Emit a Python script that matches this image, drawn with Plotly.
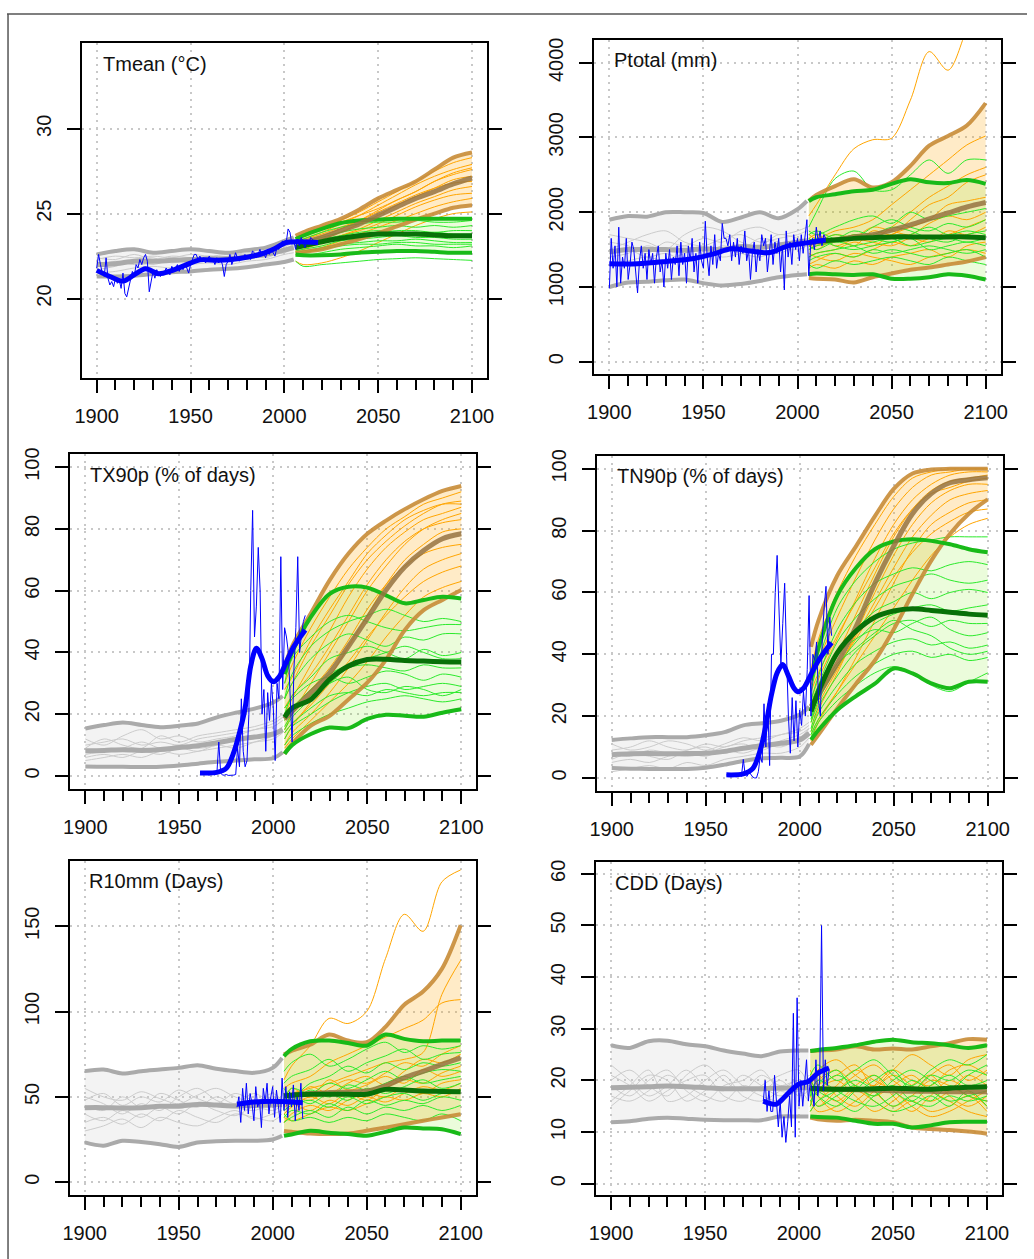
import plotly.graph_objects as go

W, H = 1034, 1259

HIST_YEARS = [1900, 1910, 1920, 1930, 1940, 1950, 1960, 1970, 1980, 1990, 2000, 2005]
FUT_YEARS = [2006, 2010, 2020, 2030, 2040, 2050, 2060, 2070, 2080, 2090, 2100]

# ---------------- Tmean ----------------
TMEAN_HIST_UP = [22.6, 22.8, 22.9, 22.7, 22.8, 22.9, 22.8, 22.7, 22.85, 23.0, 23.4, 23.6]
TMEAN_HIST_LO = [21.3, 21.3, 21.35, 21.45, 21.55, 21.6, 21.7, 21.75, 21.85, 22.0, 22.15, 22.3]
TMEAN_HIST_MED = [22.0, 22.05, 22.2, 22.2, 22.25, 22.3, 22.35, 22.35, 22.45, 22.6, 22.85, 23.0]
TMEAN_HIST_MEMBERS = [
    [21.7, 21.9, 22.2, 22.0, 22.3, 22.2, 22.4, 22.2, 22.5, 22.5, 22.9, 23.1],
    [22.3, 22.5, 22.4, 22.5, 22.4, 22.6, 22.5, 22.6, 22.6, 22.8, 23.1, 23.3],
    [21.5, 21.6, 21.8, 21.9, 21.8, 22.0, 22.1, 22.0, 22.2, 22.3, 22.6, 22.7],
    [22.1, 22.0, 22.3, 22.4, 22.1, 22.3, 22.2, 22.4, 22.3, 22.6, 22.7, 23.0],
    [21.9, 22.2, 22.0, 22.1, 22.4, 22.2, 22.5, 22.3, 22.6, 22.4, 22.9, 23.2],
    [22.4, 22.3, 22.6, 22.3, 22.5, 22.4, 22.3, 22.5, 22.7, 22.7, 23.0, 23.4],
]
TMEAN_R85_UP = [23.7, 23.9, 24.3, 24.7, 25.25, 25.9, 26.4, 26.9, 27.6, 28.3, 28.6]
TMEAN_R85_LO = [22.7, 22.75, 22.9, 23.2, 23.5, 23.85, 24.25, 24.65, 25.0, 25.35, 25.5]
TMEAN_R85_MED = [23.2, 23.3, 23.6, 24.0, 24.4, 24.9, 25.4, 25.9, 26.3, 26.75, 27.1]
TMEAN_R85_MEMBERS = [
    [23.5, 23.7, 24.1, 24.6, 25.1, 25.7, 26.3, 26.9, 27.5, 28.0, 28.3],
    [23.3, 23.5, 23.9, 24.4, 24.9, 25.5, 26.1, 26.7, 27.2, 27.6, 27.9],
    [23.1, 23.3, 23.7, 24.1, 24.6, 25.2, 25.8, 26.3, 26.9, 27.3, 27.6],
    [22.9, 23.1, 23.5, 23.9, 24.4, 24.9, 25.5, 26.0, 26.5, 27.0, 27.2],
    [23.4, 23.5, 23.8, 24.2, 24.6, 25.1, 25.6, 26.1, 26.5, 26.8, 26.9],
    [22.8, 22.9, 23.3, 23.7, 24.1, 24.6, 25.1, 25.6, 26.0, 26.4, 26.6],
    [23.0, 23.1, 23.4, 23.7, 24.0, 24.4, 24.9, 25.4, 25.8, 26.1, 26.2],
    [22.6, 22.7, 23.0, 23.4, 23.8, 24.2, 24.6, 25.0, 25.4, 25.7, 25.9],
    [22.2, 22.0, 22.1, 22.4, 22.8, 23.3, 23.8, 24.3, 24.7, 25.0, 25.1],
    [23.6, 23.8, 24.2, 24.5, 24.9, 25.3, 25.8, 26.3, 26.9, 27.4, 27.7],
]
TMEAN_R45_UP = [23.5, 23.7, 24.1, 24.45, 24.6, 24.65, 24.7, 24.7, 24.7, 24.7, 24.7]
TMEAN_R45_LO = [22.6, 22.55, 22.55, 22.6, 22.7, 22.75, 22.8, 22.8, 22.75, 22.7, 22.7]
TMEAN_R45_MED = [23.0, 23.1, 23.35, 23.55, 23.7, 23.8, 23.8, 23.8, 23.75, 23.7, 23.7]
TMEAN_R45_MEMBERS = [
    [23.3, 23.5, 23.9, 24.2, 24.4, 24.5, 24.5, 24.6, 24.5, 24.5, 24.6],
    [23.1, 23.3, 23.6, 23.9, 24.1, 24.2, 24.3, 24.2, 24.3, 24.2, 24.3],
    [22.9, 23.0, 23.3, 23.6, 23.8, 23.9, 24.0, 24.0, 23.9, 24.0, 24.0],
    [23.2, 23.2, 23.5, 23.7, 23.9, 24.0, 23.9, 23.8, 23.9, 23.8, 23.8],
    [22.8, 22.9, 23.1, 23.4, 23.5, 23.6, 23.7, 23.6, 23.6, 23.5, 23.5],
    [22.7, 22.8, 23.0, 23.2, 23.3, 23.4, 23.4, 23.5, 23.4, 23.3, 23.3],
    [22.5, 22.5, 22.7, 22.9, 23.0, 23.1, 23.2, 23.1, 23.1, 23.0, 23.1],
    [22.2, 21.9, 22.0, 22.1, 22.2, 22.3, 22.35, 22.4, 22.35, 22.3, 22.25],
    [23.0, 23.1, 23.4, 23.6, 23.8, 23.7, 23.8, 23.9, 23.8, 23.7, 23.6],
    [22.6, 22.7, 22.9, 23.1, 23.2, 23.2, 23.3, 23.3, 23.2, 23.2, 23.2],
]
TMEAN_OBS_START = 1900
TMEAN_OBS = [
    21.8, 22.6, 22.0, 21.5, 21.3, 22.4, 21.2, 20.8, 21.0, 20.7,
    21.2, 20.9, 21.1, 20.6, 21.5, 20.3, 20.1, 20.6, 20.9, 21.6,
    21.3, 22.0, 21.8, 22.3, 22.0, 22.4, 22.6, 22.2, 20.4, 21.0,
    21.6, 21.2, 21.7, 21.4, 21.3, 21.6, 21.5, 21.8, 21.6, 21.4,
    21.9, 21.7, 21.8, 22.0, 21.6, 21.9, 21.7, 22.1, 21.8, 21.5,
    22.0, 22.3, 22.6, 22.6, 22.3, 22.5, 22.2, 22.4, 22.1, 22.3,
    22.5, 22.2, 22.3, 22.0, 22.4, 22.1, 22.3, 22.0, 21.3, 22.0,
    22.2, 22.6, 22.0, 22.3, 22.7, 22.4, 22.2, 22.5, 22.3, 22.6,
    22.4, 22.5, 22.3, 22.8, 22.7, 22.4, 22.6, 22.9, 22.5, 22.7,
    22.4, 22.8, 22.6, 22.9, 22.7, 22.5, 23.0, 22.9, 23.1, 23.4,
    23.2, 23.3, 24.1, 23.9, 23.2, 23.4, 22.9, 23.5, 23.1, 23.6,
    23.3, 23.0, 23.4, 23.2, 23.6, 23.5, 23.3, 23.4, 23.3,
]
TMEAN_SMOOTH_YEARS = [1900, 1907, 1914, 1920, 1926, 1933, 1940, 1947, 1955, 1965, 1976, 1988, 1995, 2001, 2008, 2018]
TMEAN_SMOOTH = [21.66, 21.3, 21.03, 21.4, 21.75, 21.46, 21.65, 21.95, 22.28, 22.25, 22.36, 22.64, 22.95, 23.3, 23.35, 23.3]

# ---------------- Ptotal ----------------
PTOT_HIST_UP = [1900, 1950, 1940, 2000, 2000, 1990, 1870, 1930, 2000, 1920, 2040, 2150]
PTOT_HIST_LO = [1000, 1060, 1070, 1090, 1100, 1050, 1020, 1040, 1080, 1130, 1160, 1170]
PTOT_HIST_MED = [1470, 1500, 1500, 1500, 1490, 1510, 1500, 1540, 1530, 1560, 1600, 1620]
PTOT_HIST_MEMBERS = [
    [1500, 1600, 1700, 1750, 1600, 1550, 1650, 1700, 1600, 1650, 1700, 1750],
    [1400, 1450, 1550, 1500, 1700, 1800, 1750, 1600, 1550, 1700, 1650, 1600],
    [1300, 1350, 1400, 1350, 1450, 1500, 1400, 1450, 1500, 1450, 1550, 1550],
    [1600, 1550, 1450, 1600, 1550, 1650, 1600, 1750, 1800, 1700, 1750, 1800],
    [1450, 1500, 1400, 1450, 1350, 1400, 1500, 1450, 1400, 1500, 1500, 1550],
    [1700, 1650, 1600, 1500, 1550, 1450, 1550, 1500, 1650, 1600, 1550, 1650],
]
PTOT_R85_UP = [2150, 2230, 2350, 2440, 2330, 2400, 2620, 2890, 3020, 3160, 3460]
PTOT_R85_LO = [1120, 1110, 1100, 1060, 1130, 1180, 1230, 1260, 1300, 1340, 1400]
PTOT_R85_MED = [1580, 1600, 1630, 1670, 1700, 1760, 1830, 1910, 1990, 2070, 2130]
PTOT_R85_MEMBERS = [
    [1950, 2100, 2500, 2850, 2970, 2990, 3500, 4150, 3900, 4450, 5000],
    [1700, 1650, 1750, 1800, 1900, 2100, 2300, 2500, 2700, 2900, 3020],
    [1500, 1550, 1600, 1700, 1650, 1800, 2000, 2200, 2350, 2500, 2600],
    [1600, 1500, 1650, 1550, 1750, 1700, 1900, 2100, 2200, 2400, 2500],
    [1400, 1450, 1500, 1600, 1550, 1700, 1800, 1900, 2100, 2150, 2200],
    [1650, 1700, 1550, 1650, 1800, 1750, 1700, 1850, 1950, 1900, 2000],
    [1300, 1350, 1450, 1400, 1500, 1600, 1550, 1650, 1700, 1800, 1900],
    [1550, 1600, 1700, 1650, 1600, 1550, 1650, 1600, 1750, 1700, 1800],
    [1250, 1300, 1250, 1350, 1300, 1400, 1450, 1500, 1400, 1550, 1600],
    [1450, 1400, 1350, 1450, 1400, 1350, 1300, 1400, 1450, 1500, 1450],
]
PTOT_R45_UP = [2150, 2200, 2240, 2280, 2300, 2380, 2440, 2400, 2390, 2430, 2380]
PTOT_R45_LO = [1170, 1180, 1170, 1160, 1170, 1110, 1110, 1130, 1170, 1150, 1100]
PTOT_R45_MED = [1600, 1610, 1630, 1650, 1660, 1670, 1670, 1670, 1670, 1670, 1660]
PTOT_R45_MEMBERS = [
    [1800, 2000, 2450, 2550, 2300, 2300, 2500, 2700, 2520, 2700, 2700],
    [1750, 1700, 1800, 1900, 1950, 1850, 2000, 1900, 1950, 2000, 2050],
    [1650, 1600, 1700, 1650, 1800, 1900, 1800, 1750, 1850, 1800, 1900],
    [1500, 1550, 1600, 1700, 1650, 1600, 1700, 1800, 1700, 1750, 1700],
    [1400, 1450, 1500, 1550, 1600, 1650, 1550, 1600, 1650, 1600, 1650],
    [1600, 1650, 1550, 1500, 1550, 1600, 1650, 1500, 1550, 1600, 1550],
    [1350, 1400, 1450, 1400, 1500, 1450, 1500, 1550, 1500, 1450, 1500],
    [1550, 1500, 1600, 1550, 1450, 1500, 1450, 1400, 1450, 1500, 1400],
    [1300, 1250, 1350, 1300, 1350, 1400, 1350, 1300, 1400, 1350, 1300],
    [1700, 1750, 1650, 1750, 1700, 1800, 1750, 1650, 1600, 1700, 1750],
]
PTOT_OBS_START = 1900
PTOT_OBS = [
    980, 1650, 1250, 1550, 1000, 1800, 1050, 1400, 1250, 1650,
    1100, 1300, 1600, 1500, 1200, 920, 1350, 1550, 1250, 1450,
    1100, 1500, 1300, 1450, 1050, 1400, 1550, 1200, 1350, 1000,
    1450, 1250, 1500, 1100, 1400, 1300, 1550, 1150, 1600, 1300,
    1450, 1050, 1550, 1350, 1650, 1200, 1450, 1050, 1600, 1350,
    1250, 1880, 1400, 1150, 1550, 1300, 1700, 1250, 1450, 1350,
    1850, 1650, 1650, 1550, 1700, 1350, 1600, 1400, 1650, 1300,
    1550, 1450, 1750, 1350, 1500, 1100, 1450, 1600, 1200, 1500,
    1350, 1700, 1550, 1650, 1200, 1500, 1700, 1300, 1600, 1450,
    1650, 1200, 1550, 960, 1750, 1400, 1600, 1300, 1700, 1500,
    1650, 1350, 1700, 1450, 1650, 1900, 1150, 1550, 1650, 1500,
    1800, 1600, 1750, 1550, 1700, 1650,
]
PTOT_SMOOTH_YEARS = [1900, 1915, 1930, 1945, 1955, 1965, 1975, 1985, 1995, 2005, 2015]
PTOT_SMOOTH = [1310, 1310, 1340, 1380, 1440, 1510, 1480, 1460, 1550, 1590, 1630]

# ---------------- TX90p ----------------
TX_HIST_UP = [15.4, 16.5, 17.3, 16.5, 15.8, 16.3, 17.0, 19.0, 20.5, 21.8, 23.8, 25.9]
TX_HIST_LO = [3.1, 3.0, 3.0, 2.9, 3.0, 3.4, 4.0, 4.6, 5.0, 5.4, 5.8, 7.7]
TX_HIST_MED = [8.2, 8.3, 8.5, 8.3, 8.6, 9.2, 9.8, 10.8, 11.8, 12.6, 13.6, 15.0]
TX_HIST_MEMBERS = [
    [10, 11, 12, 10, 11, 10, 12, 13, 14, 15, 17, 19],
    [7, 8, 9, 11, 9, 10, 9, 10, 12, 13, 14, 16],
    [5, 6, 7, 6, 8, 7, 8, 9, 10, 11, 12, 14],
    [12, 10, 13, 15, 12, 13, 11, 12, 13, 15, 16, 18],
    [6, 7, 6, 8, 7, 9, 8, 10, 9, 11, 13, 15],
    [9, 12, 10, 9, 13, 11, 13, 14, 15, 16, 18, 20],
]
TX_R85_UP = [35.6, 42, 52.7, 63.4, 72, 78.4, 82.7, 86.4, 89.6, 92.3, 93.9]
TX_R85_LO = [7.2, 10.4, 16.3, 19.5, 24.8, 30.2, 37.7, 47.3, 53.7, 57, 60.2]
TX_R85_MED = [18.4, 21, 27, 33.4, 42, 51, 60.2, 67.7, 73, 76.8, 78.4]
TX_R85_MEMBERS = [
    [30, 36, 48, 58, 67, 74, 80, 84, 88, 90, 92],
    [25, 30, 42, 52, 62, 70, 76, 81, 85, 88, 89],
    [20, 25, 36, 47, 58, 67, 74, 79, 83, 85, 87],
    [15, 20, 30, 40, 50, 60, 68, 75, 80, 83, 85],
    [22, 26, 33, 42, 52, 62, 70, 76, 80, 82, 83],
    [12, 16, 24, 32, 42, 52, 62, 70, 75, 79, 80],
    [18, 22, 28, 35, 44, 54, 62, 68, 72, 74, 75],
    [10, 14, 20, 27, 35, 44, 53, 61, 67, 70, 72],
    [14, 17, 23, 30, 37, 45, 52, 58, 63, 66, 68],
    [9, 12, 18, 24, 30, 37, 45, 52, 58, 61, 63],
    [28, 32, 44, 54, 63, 72, 78, 83, 86, 88, 88],
]
TX_R45_UP = [33, 40, 51.5, 59, 61.3, 61, 58.5, 55.9, 57, 58, 57.5]
TX_R45_LO = [7.2, 10, 13.6, 15.7, 15.5, 18.5, 19.8, 19.5, 19.2, 20.5, 21.6]
TX_R45_MED = [19, 22, 24.8, 31.3, 35.6, 37.7, 37.8, 37.4, 37.2, 37, 36.9]
TX_R45_MEMBERS = [
    [30, 38, 45, 50, 52, 50, 48, 47, 48, 49, 49],
    [25, 30, 38, 43, 46, 44, 42, 45, 44, 46, 46],
    [20, 26, 32, 38, 40, 42, 40, 38, 41, 39, 40],
    [18, 22, 28, 33, 36, 38, 40, 42, 40, 38, 38],
    [15, 19, 25, 30, 35, 36, 35, 34, 36, 35, 35],
    [22, 25, 30, 32, 30, 32, 34, 33, 31, 33, 32],
    [12, 16, 20, 24, 27, 29, 30, 28, 29, 30, 29],
    [14, 17, 22, 26, 27, 26, 28, 27, 26, 27, 27],
    [10, 13, 17, 20, 22, 24, 25, 26, 25, 24, 25],
    [25, 33, 42, 47, 50, 52, 54, 52, 50, 51, 50],
    [16, 20, 26, 30, 32, 28, 27, 29, 28, 26, 28],
]
TX_OBS_START = 1961
TX_OBS = [
    1, 0.5, 0.5, 1, 0.5, 0.3, 1, 0.5, 0.3, 1,
    11, 1, 0.3, 0.3, 0.5, 0.2, 0.2, 0.2, 0.3, 0.5,
    9, 3, 25, 8, 3, 5, 20, 60, 86, 45,
    55, 74, 60, 20, 28, 8, 27, 18, 30, 22,
    5, 30, 25, 71, 28, 48, 45, 40, 25, 11,
    35, 48, 71, 40, 46, 50, 52,
]
TX_SMOOTH_YEARS = [1961, 1970, 1975, 1979, 1982, 1985, 1988, 1991, 1994, 1997, 2000, 2003, 2007, 2011, 2017]
TX_SMOOTH = [1, 1.2, 2.5, 7.7, 14, 22, 35.6, 41.4, 38, 32.5, 30.5, 32, 37, 42, 47.3]

# ---------------- TN90p ----------------
TN_HIST_UP = [12.3, 12.8, 13.2, 13.2, 13.2, 13.8, 14.8, 17.0, 17.7, 18.5, 20.5, 23.1]
TN_HIST_LO = [3.2, 3.0, 2.9, 2.9, 2.9, 3.3, 4.3, 5.5, 6.4, 6.5, 6.9, 11.0]
TN_HIST_MED = [7.5, 7.8, 7.9, 7.8, 7.9, 8.0, 8.6, 9.6, 10.4, 11.2, 12.3, 14.5]
TN_HIST_MEMBERS = [
    [9, 10, 12, 10, 9, 11, 10, 12, 13, 14, 16, 18],
    [5, 6, 5, 7, 8, 7, 9, 8, 10, 11, 12, 15],
    [2, 3, 4, 3, 5, 4, 6, 7, 8, 8, 10, 13],
    [11, 9, 10, 12, 11, 9, 11, 13, 12, 14, 15, 17],
    [6, 8, 7, 6, 9, 10, 8, 10, 11, 10, 13, 16],
    [8, 7, 9, 8, 7, 8, 10, 11, 9, 12, 14, 16],
]
TN_R85_UP = [42.4, 51, 65.5, 75, 84.7, 93.5, 98.5, 99.8, 100, 100, 100]
TN_R85_LO = [10.7, 14, 22.5, 30.5, 38, 48, 59.5, 70.3, 79, 85.5, 90.1]
TN_R85_MED = [23.1, 27, 37, 49, 63, 75, 85.5, 92, 95.5, 96.5, 97.1]
TN_R85_MEMBERS = [
    [35, 45, 60, 72, 82, 91, 97, 99, 100, 100, 100],
    [30, 38, 52, 65, 77, 87, 94, 98, 99, 100, 100],
    [25, 32, 45, 58, 71, 82, 90, 95, 98, 99, 99],
    [20, 27, 40, 53, 66, 78, 87, 93, 96, 97, 98],
    [28, 34, 46, 57, 68, 79, 87, 92, 94, 96, 97],
    [15, 22, 34, 47, 60, 72, 82, 89, 93, 95, 95],
    [18, 24, 35, 46, 57, 68, 78, 85, 90, 92, 93],
    [12, 18, 28, 39, 51, 63, 74, 82, 86, 89, 90],
    [22, 27, 36, 45, 55, 65, 73, 79, 83, 86, 87],
    [14, 19, 28, 37, 46, 55, 64, 72, 78, 82, 84],
]
TN_R45_UP = [31.6, 42, 59, 68, 74, 76.5, 77.2, 76.7, 75.6, 74, 73]
TN_R45_LO = [12.3, 15.5, 22, 26.5, 30.5, 35.4, 33.8, 30.6, 29, 31.1, 31.1]
TN_R45_MED = [21.5, 28, 40.5, 47.5, 52, 54, 54.7, 54.2, 53.6, 53, 52.6]
TN_R45_MEMBERS = [
    [28, 38, 55, 64, 70, 74, 76, 77, 78, 78, 78],
    [25, 33, 48, 57, 63, 66, 68, 67, 69, 70, 69],
    [22, 30, 44, 52, 58, 62, 64, 66, 64, 63, 64],
    [20, 27, 40, 48, 54, 57, 60, 58, 60, 61, 60],
    [18, 25, 36, 44, 50, 53, 55, 56, 54, 55, 56],
    [16, 23, 33, 41, 46, 50, 51, 49, 51, 50, 50],
    [24, 30, 40, 45, 48, 47, 50, 52, 48, 46, 47],
    [15, 21, 30, 37, 41, 44, 45, 43, 44, 42, 43],
    [14, 19, 27, 33, 37, 40, 41, 39, 40, 38, 39],
    [13, 18, 25, 30, 34, 36, 34, 30, 28, 31, 34],
    [19, 26, 37, 42, 47, 51, 48, 46, 42, 40, 41],
]
TN_OBS_START = 1961
TN_OBS = [
    1, 0.5, 1, 0.5, 1, 0.3, 0.5, 1, 0.5, 6,
    1, 0.5, 2, 1, 0.3, 0, 0, 2, 7, 5,
    24, 10, 24, 4, 40, 40, 60, 72, 55, 37,
    50, 63, 40, 20, 8, 26, 12, 25, 10, 22,
    17, 28, 20, 35, 59, 20, 40, 38, 44, 25,
    20, 45, 55, 62, 40, 52, 46,
]
TN_SMOOTH_YEARS = [1961, 1970, 1975, 1979, 1982, 1985, 1988, 1991, 1994, 1997, 1999, 2002, 2006, 2010, 2014, 2017]
TN_SMOOTH = [1, 1.3, 3, 9, 17, 27, 34, 36.7, 33, 29, 27.9, 29, 33.5, 38, 41.5, 43.8]

# ---------------- R10mm ----------------
R10_HIST_UP = [65.1, 66, 63.7, 65, 66, 67, 68.6, 66.5, 65.1, 64.1, 67, 72.8]
R10_HIST_LO = [23.3, 21.4, 24.3, 23.5, 22.3, 20.7, 23.3, 24.0, 24.3, 24.3, 25.0, 27.2]
R10_HIST_MED = [43.7, 43.7, 43.5, 43.7, 44.5, 44.5, 45.6, 45.2, 44.7, 45.0, 45.3, 45.6]
R10_HIST_MEMBERS = [
    [48, 52, 45, 50, 47, 54, 49, 46, 52, 48, 50, 49],
    [40, 36, 42, 38, 44, 40, 46, 42, 39, 44, 42, 45],
    [55, 50, 48, 53, 49, 46, 51, 55, 50, 47, 52, 48],
    [35, 38, 34, 40, 36, 42, 38, 35, 40, 38, 36, 40],
    [45, 42, 50, 44, 52, 48, 44, 50, 46, 52, 47, 51],
    [30, 33, 37, 32, 38, 35, 33, 38, 42, 37, 40, 42],
    [50, 46, 40, 46, 42, 50, 55, 48, 44, 42, 46, 44],
]
R10_R85_UP = [74.8, 77, 80.6, 86.5, 83, 82, 91, 104, 111.7, 125, 150.6]
R10_R85_LO = [30, 29.5, 28.5, 28.2, 28.5, 30.1, 32, 34, 36, 37.9, 39.8]
R10_R85_MED = [50.5, 51, 52, 52.5, 52.8, 53.4, 56.5, 61.2, 65, 69, 72.8]
R10_R85_MEMBERS = [
    [60, 68, 80, 96, 93, 100, 131, 157, 147, 176, 183],
    [55, 58, 62, 70, 75, 80, 85, 90, 95, 105, 107],
    [50, 52, 55, 58, 62, 66, 70, 72, 76, 110, 130],
    [45, 50, 48, 55, 60, 58, 64, 70, 68, 75, 80],
    [52, 48, 56, 52, 58, 62, 57, 65, 72, 70, 75],
    [40, 44, 50, 46, 52, 48, 55, 60, 58, 64, 68],
    [48, 55, 50, 60, 54, 57, 62, 58, 66, 62, 65],
    [35, 40, 45, 42, 48, 52, 50, 55, 52, 58, 60],
    [44, 46, 42, 48, 45, 50, 47, 52, 56, 54, 58],
    [38, 36, 40, 44, 42, 46, 50, 48, 52, 50, 55],
]
R10_R45_UP = [73.8, 78, 82.6, 83, 81.6, 80, 86.5, 84, 82.6, 83, 83]
R10_R45_LO = [27.2, 28, 30.1, 29, 28.2, 27.2, 29.5, 32, 31.5, 31, 28.2]
R10_R45_MED = [50.5, 51, 51.5, 51.5, 51.5, 51.5, 54.4, 54, 53.4, 53.2, 53]
R10_R45_MEMBERS = [
    [65, 70, 75, 68, 72, 78, 82, 76, 80, 78, 80],
    [58, 62, 66, 72, 65, 70, 74, 78, 72, 75, 76],
    [55, 50, 58, 62, 68, 64, 70, 66, 70, 68, 70],
    [48, 55, 52, 58, 55, 60, 65, 60, 64, 66, 65],
    [52, 48, 54, 50, 57, 54, 58, 62, 58, 60, 62],
    [45, 50, 46, 52, 48, 55, 52, 56, 60, 55, 58],
    [42, 45, 48, 44, 50, 46, 50, 52, 48, 52, 54],
    [38, 42, 40, 46, 42, 48, 45, 48, 46, 50, 48],
    [35, 38, 42, 38, 44, 40, 44, 42, 45, 42, 45],
    [40, 36, 38, 35, 38, 36, 40, 38, 36, 40, 36],
]
R10_OBS_START = 1981
R10_OBS = [
    44, 50, 35, 55, 42, 58, 40, 52, 46, 36,
    56, 44, 48, 32, 55, 47, 58, 40, 50, 56,
    38, 54, 45, 35, 61, 42, 56, 38, 53, 44,
    57, 36, 50, 42, 58, 37,
]
R10_SMOOTH_YEARS = [1981, 1990, 2000, 2010, 2016]
R10_SMOOTH = [45.7, 47, 47.5, 47, 46.6]

# ---------------- CDD ----------------
CDD_HIST_UP = [26.8, 26.3, 27.6, 27.7, 27.0, 26.6, 25.8, 25.2, 24.7, 25.6, 25.8, 25.8]
CDD_HIST_LO = [11.9, 12.1, 12.6, 12.8, 12.6, 12.4, 12.3, 12.3, 12.3, 13.0, 13.0, 13.0]
CDD_HIST_MED = [18.6, 18.7, 18.8, 18.9, 18.8, 18.6, 18.4, 18.4, 18.4, 18.5, 18.6, 18.6]
CDD_HIST_MEMBERS = [
    [20, 22, 19, 17, 21, 23, 20, 18, 21, 19, 20, 19],
    [17, 16, 18, 21, 19, 17, 16, 19, 18, 20, 17, 18],
    [23, 20, 17, 19, 22, 19, 18, 21, 19, 17, 19, 20],
    [15, 18, 21, 20, 16, 18, 21, 17, 16, 18, 20, 17],
    [19, 17, 20, 22, 18, 16, 19, 20, 22, 18, 18, 21],
    [21, 19, 16, 18, 20, 21, 17, 16, 19, 21, 22, 19],
    [16, 19, 22, 16, 17, 20, 22, 19, 17, 16, 18, 16],
]
CDD_R85_UP = [25.7, 25.8, 26, 26.6, 26, 26.2, 26, 26.6, 27.2, 28, 27.9]
CDD_R85_LO = [12.8, 12.5, 12.2, 12.4, 12.2, 11.9, 10.9, 10.6, 10.4, 10.1, 9.7]
CDD_R85_MED = [18.5, 18.4, 18.3, 18.2, 18.1, 18.0, 17.9, 17.9, 17.8, 17.8, 17.8]
CDD_R85_MEMBERS = [
    [20, 22, 24, 21, 19, 22, 25, 23, 21, 24, 25],
    [17, 15, 18, 21, 23, 20, 18, 21, 23, 20, 22],
    [19, 21, 17, 15, 18, 21, 19, 16, 18, 21, 19],
    [15, 18, 20, 17, 14, 16, 19, 21, 17, 15, 17],
    [22, 19, 16, 19, 21, 17, 14, 17, 20, 18, 15],
    [16, 14, 15, 18, 16, 14, 16, 14, 15, 17, 14],
    [18, 20, 22, 19, 17, 19, 21, 18, 16, 14, 13],
    [14, 16, 19, 22, 20, 18, 15, 13, 14, 16, 18],
    [21, 17, 14, 16, 19, 22, 20, 19, 22, 23, 21],
    [17, 19, 21, 23, 18, 15, 17, 20, 19, 17, 16],
]
CDD_R45_UP = [25.7, 25.9, 26.3, 26.8, 27.5, 27.9, 27.4, 27.2, 26.8, 26.3, 26.8]
CDD_R45_LO = [13, 12.9, 12.8, 12.2, 11.6, 11.6, 10.9, 11.3, 11.9, 12, 12]
CDD_R45_MED = [18.5, 18.4, 18.3, 18.3, 18.4, 18.5, 18.4, 18.3, 18.5, 18.7, 18.8]
CDD_R45_MEMBERS = [
    [21, 23, 20, 22, 24, 21, 19, 22, 24, 23, 25],
    [16, 18, 21, 19, 17, 20, 22, 20, 18, 21, 23],
    [19, 17, 15, 18, 21, 18, 16, 19, 21, 19, 20],
    [17, 20, 18, 16, 15, 17, 20, 18, 16, 17, 18],
    [14, 16, 18, 20, 18, 15, 17, 16, 19, 17, 16],
    [20, 18, 16, 14, 17, 19, 16, 15, 17, 16, 17],
    [18, 15, 17, 19, 16, 14, 15, 17, 15, 18, 15],
    [15, 19, 22, 18, 20, 22, 18, 21, 20, 22, 21],
]
CDD_OBS_START = 1981
CDD_OBS = [
    16, 20, 14, 18, 14, 14, 21, 15, 11, 16,
    9, 13, 8, 12, 17, 11, 33, 9, 36, 15,
    20, 15, 19, 24, 16, 20, 18, 15, 24, 17,
    20, 50, 18, 24, 19, 22,
]
CDD_SMOOTH_YEARS = [1981, 1985, 1988, 1991, 1995, 2000, 2005, 2010, 2016]
CDD_SMOOTH = [16, 15.5, 15.4, 16.3, 17.8, 19.3, 19.8, 21.4, 22.4]

TITLES = ["Tmean (°C)", "Ptotal (mm)", "TX90p (% of days)", "TN90p (% of days)", "R10mm (Days)", "CDD (Days)"]
YTICKS = [[20, 25, 30], [0, 1000, 2000, 3000, 4000], [0, 20, 40, 60, 80, 100],
          [0, 20, 40, 60, 80, 100], [0, 50, 100, 150], [0, 10, 20, 30, 40, 50, 60]]
XTICKS = [1900, 1950, 2000, 2050, 2100]

PANELS = [
    dict(hu=TMEAN_HIST_UP, hl=TMEAN_HIST_LO, hm=TMEAN_HIST_MED, hs=TMEAN_HIST_MEMBERS,
         ou=TMEAN_R85_UP, ol=TMEAN_R85_LO, om=TMEAN_R85_MED, os=TMEAN_R85_MEMBERS,
         gu=TMEAN_R45_UP, gl=TMEAN_R45_LO, gm=TMEAN_R45_MED, gs=TMEAN_R45_MEMBERS,
         obs0=TMEAN_OBS_START, obs=TMEAN_OBS, sy=TMEAN_SMOOTH_YEARS, sv=TMEAN_SMOOTH),
    dict(hu=PTOT_HIST_UP, hl=PTOT_HIST_LO, hm=PTOT_HIST_MED, hs=PTOT_HIST_MEMBERS,
         ou=PTOT_R85_UP, ol=PTOT_R85_LO, om=PTOT_R85_MED, os=PTOT_R85_MEMBERS,
         gu=PTOT_R45_UP, gl=PTOT_R45_LO, gm=PTOT_R45_MED, gs=PTOT_R45_MEMBERS,
         obs0=PTOT_OBS_START, obs=PTOT_OBS, sy=PTOT_SMOOTH_YEARS, sv=PTOT_SMOOTH),
    dict(hu=TX_HIST_UP, hl=TX_HIST_LO, hm=TX_HIST_MED, hs=TX_HIST_MEMBERS,
         ou=TX_R85_UP, ol=TX_R85_LO, om=TX_R85_MED, os=TX_R85_MEMBERS,
         gu=TX_R45_UP, gl=TX_R45_LO, gm=TX_R45_MED, gs=TX_R45_MEMBERS,
         obs0=TX_OBS_START, obs=TX_OBS, sy=TX_SMOOTH_YEARS, sv=TX_SMOOTH),
    dict(hu=TN_HIST_UP, hl=TN_HIST_LO, hm=TN_HIST_MED, hs=TN_HIST_MEMBERS,
         ou=TN_R85_UP, ol=TN_R85_LO, om=TN_R85_MED, os=TN_R85_MEMBERS,
         gu=TN_R45_UP, gl=TN_R45_LO, gm=TN_R45_MED, gs=TN_R45_MEMBERS,
         obs0=TN_OBS_START, obs=TN_OBS, sy=TN_SMOOTH_YEARS, sv=TN_SMOOTH),
    dict(hu=R10_HIST_UP, hl=R10_HIST_LO, hm=R10_HIST_MED, hs=R10_HIST_MEMBERS,
         ou=R10_R85_UP, ol=R10_R85_LO, om=R10_R85_MED, os=R10_R85_MEMBERS,
         gu=R10_R45_UP, gl=R10_R45_LO, gm=R10_R45_MED, gs=R10_R45_MEMBERS,
         obs0=R10_OBS_START, obs=R10_OBS, sy=R10_SMOOTH_YEARS, sv=R10_SMOOTH),
    dict(hu=CDD_HIST_UP, hl=CDD_HIST_LO, hm=CDD_HIST_MED, hs=CDD_HIST_MEMBERS,
         ou=CDD_R85_UP, ol=CDD_R85_LO, om=CDD_R85_MED, os=CDD_R85_MEMBERS,
         gu=CDD_R45_UP, gl=CDD_R45_LO, gm=CDD_R45_MED, gs=CDD_R45_MEMBERS,
         obs0=CDD_OBS_START, obs=CDD_OBS, sy=CDD_SMOOTH_YEARS, sv=CDD_SMOOTH),
]

# ---------------- layout geometry (target pixels in the photographed page) ----------------
BOXES = [(88.7, 36, 494, 373.3), (601.3, 32.7, 1007.7, 369),
         (77.3, 450, 483.3, 786), (603.7, 451.7, 1009.7, 788.3),
         (76.7, 858.3, 482.7, 1194.3), (603, 860, 1009, 1195)]
YRANGES = [[15.31, 35.06], [-164, 4311], [-4.08, 104.08], [-4.2, 104.1], [-7.3, 188.5], [-2.25, 62.25]]
TITLE_POS = [(108, 57), (619, 53), (95, 471), (622, 472), (94, 879), (620, 881)]

# measured: the photographed paper spans x = 14 .. 1034 px (y is 1:1)
XOFF, XSPAN = 14.0, 1020.0


def fx(px):
    return (px - XOFF) / XSPAN


GRAY_FILL = "rgba(200,200,200,0.22)"
GRAY_THIN = "#CBCBCB"
GRAY_THICK = "#AAAAAA"
OR_FILL = "rgba(255,165,0,0.22)"
OR_THIN = "#FFA500"
OR_THICK = "rgba(200,140,55,0.9)"
OR_MED = "rgba(150,115,65,0.85)"
GR_FILL = "rgba(110,235,0,0.14)"
GR_THIN = "#2BEA2B"
GR_THICK = "#18BA18"
GR_MED = "#087008"
BLUE = "#0000FF"

fig = go.Figure()


def line(ax, ay, x, y, color, width, shape="spline", fill=None, fillcolor=None):
    fig.add_trace(go.Scatter(
        x=x, y=y, mode="lines", xaxis=ax, yaxis=ay,
        line=dict(color=color, width=width, shape=shape, smoothing=0.9),
        fill=fill, fillcolor=fillcolor, hoverinfo="skip", showlegend=False))


def band(ax, ay, x, lo, up, fillcolor):
    line(ax, ay, x, lo, "rgba(0,0,0,0)", 0)
    line(ax, ay, x, up, "rgba(0,0,0,0)", 0, fill="tonexty", fillcolor=fillcolor)


layout = dict(width=W, height=H, margin=dict(l=0, r=0, t=0, b=0),
              paper_bgcolor="white", plot_bgcolor="white", showlegend=False,
              font=dict(family="Liberation Sans, Arial, sans-serif", size=20, color="#111111"))
annotations = []

for i, p in enumerate(PANELS):
    n = i + 1
    ax = "x" if n == 1 else f"x{n}"
    ay = "y" if n == 1 else f"y{n}"
    band(ax, ay, HIST_YEARS, p["hl"], p["hu"], GRAY_FILL)
    band(ax, ay, FUT_YEARS, p["ol"], p["ou"], OR_FILL)
    band(ax, ay, FUT_YEARS, p["gl"], p["gu"], GR_FILL)
    for m in p["hs"]:
        line(ax, ay, HIST_YEARS, m, GRAY_THIN, 1)
    line(ax, ay, HIST_YEARS, p["hu"], GRAY_THICK, 4)
    line(ax, ay, HIST_YEARS, p["hl"], GRAY_THICK, 4)
    line(ax, ay, HIST_YEARS, p["hm"], GRAY_THICK, 5)
    for m in p["os"]:
        line(ax, ay, FUT_YEARS, m, OR_THIN, 1)
    for m in p["gs"]:
        line(ax, ay, FUT_YEARS, m, GR_THIN, 1)
    line(ax, ay, FUT_YEARS, p["ou"], OR_THICK, 4)
    line(ax, ay, FUT_YEARS, p["ol"], OR_THICK, 4)
    line(ax, ay, FUT_YEARS, p["gu"], GR_THICK, 4)
    line(ax, ay, FUT_YEARS, p["gl"], GR_THICK, 4)
    line(ax, ay, FUT_YEARS, p["om"], OR_MED, 5)
    line(ax, ay, FUT_YEARS, p["gm"], GR_MED, 5)
    obs_years = list(range(p["obs0"], p["obs0"] + len(p["obs"])))
    line(ax, ay, obs_years, p["obs"], BLUE, 1, shape="linear")
    line(ax, ay, p["sy"], p["sv"], BLUE, 5)

    x0, y0, x1, y1 = BOXES[i]
    xkey = "xaxis" if n == 1 else f"xaxis{n}"
    ykey = "yaxis" if n == 1 else f"yaxis{n}"
    layout[xkey] = dict(
        domain=[fx(x0), fx(x1)], range=[1892, 2108], anchor=ay,
        showline=True, linewidth=2, linecolor="black", mirror=True,
        ticks="outside", tickmode="array", tickvals=XTICKS, ticklen=13, tickwidth=2, tickcolor="black",
        minor=dict(ticks="outside", tickmode="linear", tick0=1900, dtick=10, ticklen=10,
                   tickwidth=2, tickcolor="black", showgrid=False),
        showgrid=True, gridcolor="#C8C8C8", gridwidth=1.5, griddash="2px,5px",
        zeroline=False, tickfont=dict(size=20, color="#111111"), ticklabelstandoff=6)
    layout[ykey] = dict(
        domain=[1 - y1 / H, 1 - y0 / H], range=YRANGES[i], anchor=ax,
        showline=True, linewidth=2, linecolor="black", mirror="ticks",
        ticks="outside", tickmode="array", tickvals=YTICKS[i], ticklen=13, tickwidth=2, tickcolor="black",
        showgrid=True, gridcolor="#C8C8C8", gridwidth=1.5, griddash="2px,5px",
        zeroline=False, tickangle=-90, tickfont=dict(size=20, color="#111111"), ticklabelstandoff=8)
    tx, tyy = TITLE_POS[i]
    annotations.append(dict(text=TITLES[i], x=fx(tx), y=1 - tyy / H, xref="paper", yref="paper",
                            xanchor="left", yanchor="middle", showarrow=False,
                            font=dict(size=20, color="#111111")))

layout["annotations"] = annotations
layout["shapes"] = [
    dict(type="line", xref="paper", yref="paper", x0=0, x1=1.0, y0=1 - 7 / H, y1=1 - 7 / H,
         line=dict(color="#555555", width=1.5)),
    dict(type="line", xref="paper", yref="paper", x0=0.001, x1=0.001, y0=0, y1=1 - 7 / H,
         line=dict(color="#555555", width=1.5)),
]
fig.update_layout(**layout)
fig.write_html("out.html", config={"displayModeBar": False},
               post_script="document.body.style.margin='0px';document.body.style.overflow='hidden';")
